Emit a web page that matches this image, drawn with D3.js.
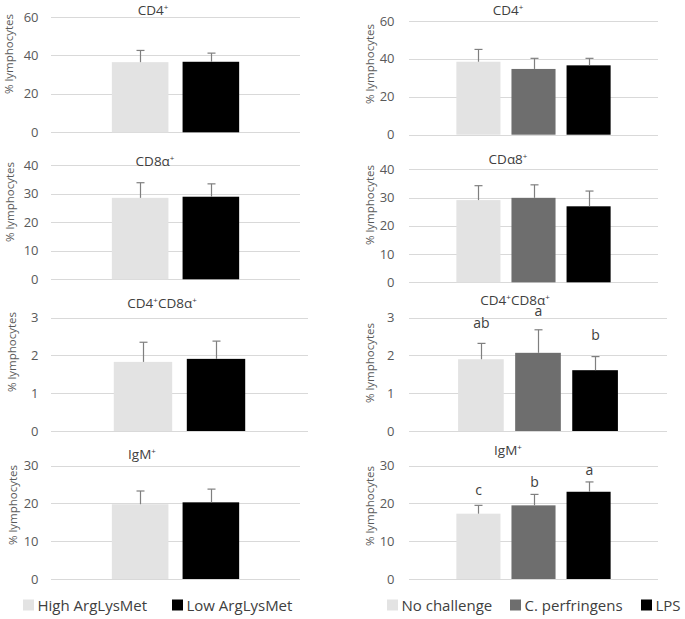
<!DOCTYPE html>
<html><head><meta charset="utf-8">
<script src="https://cdn.jsdelivr.net/npm/d3@7"></script>
<style>
body{margin:0;background:#fff;}
svg{display:block;font-family:"Open Sans","Noto Sans",sans-serif;}
</style></head><body>
<svg id="c" width="685" height="619"></svg>
<script>
// ---- data ----
const leftGroups = ["High ArgLysMet", "Low ArgLysMet"];
const rightGroups = ["No challenge", "C. perfringens", "LPS"];
const leftTitles = [["CD4", "+"], ["CD8α", "+"], ["CD4", "+", "CD8α", "+"], ["IgM", "+"]];
const rightTitles = [["CD4", "+"], ["CDα8", "+"], ["CD4", "+", "CD8α", "+"], ["IgM", "+"]];
const yMaxes = [60, 40, 3, 30];
const yTickSteps = [20, 10, 1, 10];
const leftMeans = [[36.5, 36.7], [28.5, 28.9], [1.83, 1.91], [19.8, 20.3]];
const leftSD = [[6.1, 4.5], [5.3, 4.5], [0.52, 0.47], [3.5, 3.5]];
const rightMeans = [[38.5, 34.7, 36.6], [29.1, 29.9, 26.9], [1.90, 2.07, 1.61], [17.3, 19.5, 23.1]];
const rightSD = [[6.5, 5.6, 3.7], [5.1, 4.6, 5.4], [0.42, 0.61, 0.36], [2.2, 2.9, 2.6]];
const rightLetters = [null, null, ["ab", "a", "b"], ["c", "b", "a"]];

// ---- layout ----
const leftColors = ["#e3e3e3", "#000000"];
const rightColors = ["#e3e3e3", "#6e6e6e", "#000000"];
const leftLayout = [
  {x0: 51, x1: 300, top: 17, bottom: 132.3, tx: 153, ty: 14.5, lx: 9, ly: 54},
  {x0: 51, x1: 300, top: 165, bottom: 279.3, tx: 155, ty: 165.5, lx: 10, ly: 202},
  {x0: 51, x1: 308, top: 317.7, bottom: 431, tx: 162, ty: 307.7, lx: 12, ly: 352},
  {x0: 51, x1: 300, top: 465.7, bottom: 579, tx: 142, ty: 459.3, lx: 13, ly: 505}
];
const rightLayout = [
  {x0: 409, x1: 658, top: 21, bottom: 134.7, tx: 508, ty: 14.5, lx: 370, ly: 64},
  {x0: 409, x1: 658, top: 169.3, bottom: 282.3, tx: 508, ty: 164.3, lx: 370, ly: 205},
  {x0: 409, x1: 667, top: 317.7, bottom: 431, tx: 515, ty: 304.5, lx: 370, ly: 363, lg: [15, 13.5, 16.7]},
  {x0: 409, x1: 658, top: 465.7, bottom: 579, tx: 508, ty: 455, lx: 370, ly: 506, lg: [10, 7.6, 7]}
];

const svg = d3.select("#c");

function panel(L, groups, means, sds, colors, title, yMax, step, letters, tickRight) {
  const g = svg.append("g");
  const y = d3.scaleLinear().domain([0, yMax]).range([L.bottom, L.top]);
  const x = d3.scaleBand().domain(groups).range([L.x0, L.x1]).paddingInner(0.2).paddingOuter(0.86);
  const ticks = d3.range(0, yMax + step / 2, step);
  // gridlines
  g.selectAll("line.grid").data(ticks).join("line")
    .attr("x1", L.x0).attr("x2", L.x1)
    .attr("y1", d => Math.round(y(d)) + 0.5).attr("y2", d => Math.round(y(d)) + 0.5)
    .attr("stroke", "#d9d9d9").attr("stroke-width", 1);
  // tick labels
  g.selectAll("text.tick").data(ticks).join("text")
    .attr("x", tickRight).attr("y", d => y(d) + 4.5)
    .attr("text-anchor", "end").attr("font-size", 13).attr("fill", "#595959")
    .text(d => d);
  // bars
  const data = groups.map((k, i) => ({k, m: means[i], sd: sds[i], c: colors[i], l: letters ? letters[i] : null, gap: L.lg ? L.lg[i] : 0}));
  g.selectAll("rect").data(data).join("rect")
    .attr("x", d => x(d.k)).attr("width", x.bandwidth())
    .attr("y", d => y(d.m)).attr("height", d => y(0) - y(d.m))
    .attr("fill", d => d.c);
  // error bars
  data.forEach(d => {
    const cx = Math.round(x(d.k) + x.bandwidth() / 2) + 0.5;
    g.append("line").attr("x1", cx).attr("x2", cx).attr("y1", y(d.m)).attr("y2", y(d.m + d.sd))
      .attr("stroke", "#7f7f7f").attr("stroke-width", 1.2);
    g.append("line").attr("x1", cx - 4).attr("x2", cx + 4).attr("y1", y(d.m + d.sd)).attr("y2", y(d.m + d.sd))
      .attr("stroke", "#7f7f7f").attr("stroke-width", 1.2);
    if (d.l) {
      g.append("text").attr("x", cx).attr("y", y(d.m + d.sd) - d.gap)
        .attr("text-anchor", "middle").attr("font-size", 14).attr("fill", "#404040").text(d.l);
    }
  });
  // title
  const t = g.append("text").attr("x", L.tx).attr("y", L.ty).attr("text-anchor", "middle")
    .attr("font-size", 13.5).attr("fill", "#404040");
  title.forEach((s, i) => {
    if (s === "+") t.append("tspan").attr("font-size", 8).attr("dy", -5).text("+");
    else t.append("tspan").attr("dy", i > 0 ? 5 : 0).text(s);
  });
  // y label
  g.append("text").attr("transform", `translate(${L.lx + 4},${L.ly}) rotate(-90)`)
    .attr("text-anchor", "middle").attr("font-size", 11.5).attr("fill", "#595959")
    .text("% lymphocytes");
}

for (let i = 0; i < 4; i++) {
  panel(leftLayout[i], leftGroups, leftMeans[i], leftSD[i], leftColors, leftTitles[i], yMaxes[i], yTickSteps[i], null, 38.5);
  panel(rightLayout[i], rightGroups, rightMeans[i], rightSD[i], rightColors, rightTitles[i], yMaxes[i], yTickSteps[i], rightLetters[i], 394.5);
}

// legends
function legend(items, colors, xs) {
  const g = svg.append("g");
  items.forEach((name, i) => {
    g.append("rect").attr("x", xs[i]).attr("y", 599.5).attr("width", 11).attr("height", 11).attr("fill", colors[i]);
    g.append("text").attr("x", xs[i] + 14.5).attr("y", 610.5).attr("font-size", 15).attr("fill", "#404040").text(name);
  });
}
legend(leftGroups, leftColors, [23, 172]);
legend(rightGroups, rightColors, [387, 510, 641]);
</script>
</body></html>
